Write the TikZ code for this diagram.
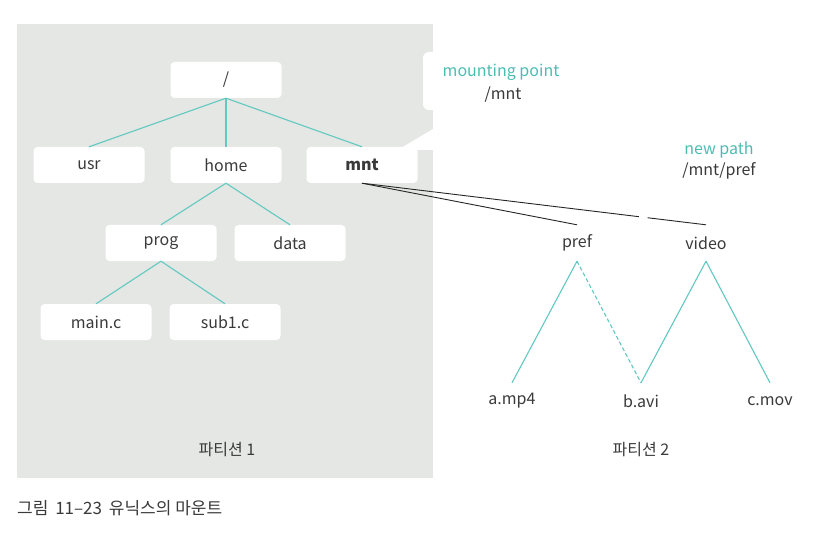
\documentclass[tikz,border=0pt]{standalone}
\usepackage{fontspec}
\setmainfont{Noto Sans CJK KR}
\usetikzlibrary{calc}
\definecolor{panelgray}{HTML}{E4E7E3}
\definecolor{tealline}{HTML}{62C9C1}
\definecolor{tealtext}{HTML}{4DBDB3}
\definecolor{txt}{HTML}{3A3A3A}
\tikzset{
  dirbox/.style={fill=white, rounded corners=4pt, minimum width=111pt, minimum height=36pt, inner sep=0pt, text=txt, font=\fontsize{16}{18}\selectfont},
  plain/.style={minimum height=36pt, inner sep=0pt, text=txt, font=\fontsize{16}{18}\selectfont},
  label/.style={inner sep=0pt, font=\fontsize{16}{18}\selectfont, align=center},
  tline/.style={draw=tealline, line width=1.1pt},
  mline/.style={draw=black!85, line width=0.9pt}
}
\begin{document}
\begin{tikzpicture}[x=1pt,y=-1pt]
\useasboundingbox (0,0) rectangle (829,537);
\fill[white] (0,0) rectangle (829,537);
% gray panel
\fill[panelgray] (17,24) rectangle (433,478);
% callout box and pointer
\fill[white, rounded corners=6pt] (423,52) rectangle (590,110);
\fill[white] (401,148) -- (433,129) -- (440,129) -- (440,150) -- (417,150) -- cycle;
% partition 1 tree
\node[dirbox] (root) at (226,80) {/};
\node[dirbox] (usr) at (89,165) {usr};
\node[dirbox] (home) at (226,165) {home};
\node[dirbox, font=\fontsize{16}{18}\selectfont\bfseries] (mnt) at (362,165) {mnt};
\node[dirbox] (prog) at (161,243) {prog};
\node[dirbox] (data) at (290,243) {data};
\node[dirbox] (mainc) at (96,322) {main.c};
\node[dirbox] (subc) at (225,322) {sub1.c};
\draw[tline] (root.south) -- (usr.north);
\draw[tline] (root.south) -- (home.north);
\draw[tline] (root.south) -- (mnt.north);
\draw[tline] (home.south) -- (prog.north);
\draw[tline] (home.south) -- (data.north);
\draw[tline] (prog.south) -- (mainc.north);
\draw[tline] (prog.south) -- (subc.north);
% partition 2 tree
\node[plain] (pref) at (577,243) {pref};
\node[plain] (video) at (706,243) {video};
\node[plain] (amp) at (512,401) {a.mp4};
\node[plain] (bavi) at (641,401) {b.avi};
\node[plain] (cmov) at (770,401) {c.mov};
\draw[tline] (pref.south) -- (amp.north);
\draw[tline, dash pattern=on 4pt off 2.5pt] (pref.south) -- (bavi.north);
\draw[tline] (video.south) -- (bavi.north);
\draw[tline] (video.south) -- (cmov.north);
% mount links
\draw[mline] (mnt.south) -- (pref.north);
\draw[mline] (mnt.south) -- ($(mnt.south)!0.805!(video.north)$);
\draw[mline] ($(mnt.south)!0.83!(video.north)$) -- (video.north);
% labels
\node[label, text=tealtext] (mp) at (501,72) {mounting point};
\node[label, text=txt] (mpath) at (503,95) {/mnt};
\node[label, text=tealtext] (np) at (719,150) {new path};
\node[label, text=txt] (npath) at (719,171) {/mnt/pref};
\node[label, text=txt] (p1) at (227,450) {파티션 1};
\node[label, text=txt] (p2) at (641,450) {파티션 2};
\node[label, text=txt, anchor=west, font=\fontsize{17}{19}\selectfont] (cap) at (17,508) {그림\hspace{0.4em}11–23\hspace{0.4em}유닉스의 마운트};
\end{tikzpicture}
\end{document}
